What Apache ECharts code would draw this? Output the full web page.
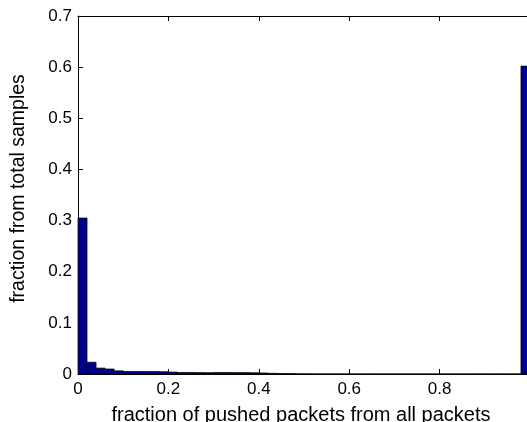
<!DOCTYPE html>
<html>
<head>
<meta charset="utf-8">
<script src="https://cdn.jsdelivr.net/npm/echarts@6/dist/echarts.min.js"></script>
<style>
html,body{margin:0;padding:0;background:#fff;}
#chart{width:527px;height:422px;}
</style>
</head>
<body>
<div id="chart"></div>
<script>
// Histogram bins (left edges, width 0.02)
const binLeft = [0.00,0.02,0.04,0.06,0.08,0.10,0.12,0.14,0.16,0.18,
                 0.20,0.22,0.24,0.26,0.28,0.30,0.32,0.34,0.36,0.38,
                 0.40,0.42,0.44,0.46,0.48,0.50,0.52,0.54,0.56,0.58,
                 0.60,0.62,0.64,0.66,0.68,0.70,0.72,0.74,0.76,0.78,
                 0.80,0.82,0.84,0.86,0.88,0.90,0.92,0.94,0.96,0.98];
const binWidth = 0.02;
const fractions = [0.305,0.023,0.0115,0.0098,0.0062,0.005,0.005,0.005,0.0048,0.0045,
                   0.0038,0.003,0.003,0.0028,0.0026,0.003,0.003,0.0028,0.0028,0.0025,
                   0.002,0.0014,0.001,0.0008,0.0004,0.0003,0.0002,0.0002,0.0002,0.0002,
                   0.0001,0.0001,0.0001,0.0001,0.0001,0.0001,0.0001,0.0001,0.0001,0.0001,
                   0.0001,0.0001,0.0001,0.0001,0.0001,0.0001,0.0001,0.0001,0.0001,0.602];
const xTicks = [0, 0.2, 0.4, 0.6, 0.8, 1];
const yTicks = [0, 0.1, 0.2, 0.3, 0.4, 0.5, 0.6, 0.7];

const data = binLeft.map((b, i) => [b, b + binWidth, fractions[i]]);
const font = 'Liberation Sans, Arial, Helvetica, sans-serif';

const chart = echarts.init(document.getElementById('chart'), null, {renderer: 'canvas'});
const axisCommon = {
  axisLine: {show: true, onZero: false, lineStyle: {color: '#000', width: 1}},
  axisTick: {show: true, inside: true, length: 5, lineStyle: {color: '#000'}},
  splitLine: {show: false}
};
chart.setOption({
  animation: false,
  backgroundColor: '#fff',
  grid: {left: 78, top: 16, width: 452, height: 358, containLabel: false, outerBoundsMode: 'none'},
  xAxis: [
    Object.assign({
      type: 'value', min: 0, max: 1, interval: 0.2, position: 'bottom',
      name: 'fraction of pushed packets from all packets',
      nameLocation: 'middle', nameGap: 31,
      nameTextStyle: {fontFamily: font, fontSize: 20, color: '#000', padding: [0, 6, 0, 0]},
      axisLabel: {fontFamily: font, fontSize: 17, color: '#000', margin: 7,
        formatter: v => xTicks.indexOf(v) >= 0 && v < 1 ? String(v) : ''}
    }, axisCommon),
    Object.assign({
      type: 'value', min: 0, max: 1, interval: 0.2, position: 'top',
      axisLabel: {show: false}
    }, axisCommon)
  ],
  yAxis: [
    Object.assign({
      type: 'value', min: 0, max: 0.7, interval: 0.1, position: 'left',
      name: 'fraction from total samples',
      nameLocation: 'middle', nameGap: 49,
      nameTextStyle: {fontFamily: font, fontSize: 19.5, color: '#000', padding: [0, 0, 0, 13]},
      axisLabel: {fontFamily: font, fontSize: 17, color: '#000', margin: 6,
        formatter: v => { const t = yTicks.find(y => Math.abs(y - v) < 1e-9); return t === undefined ? '' : String(t); }}
    }, axisCommon),
    Object.assign({
      type: 'value', min: 0, max: 0.7, interval: 0.1, position: 'right',
      axisLabel: {show: false}
    }, axisCommon)
  ],
  series: [{
    type: 'custom',
    xAxisIndex: 0, yAxisIndex: 0,
    clip: false,
    data: data,
    renderItem: function (params, api) {
      const p0 = api.coord([api.value(0), api.value(2)]);
      const p1 = api.coord([api.value(1), 0]);
      return {
        type: 'rect',
        shape: {x: p0[0], y: p0[1], width: p1[0] - p0[0], height: p1[1] - p0[1]},
        style: {fill: '#00008F', stroke: '#000', lineWidth: 0.7}
      };
    }
  }]
});
</script>
</body>
</html>
